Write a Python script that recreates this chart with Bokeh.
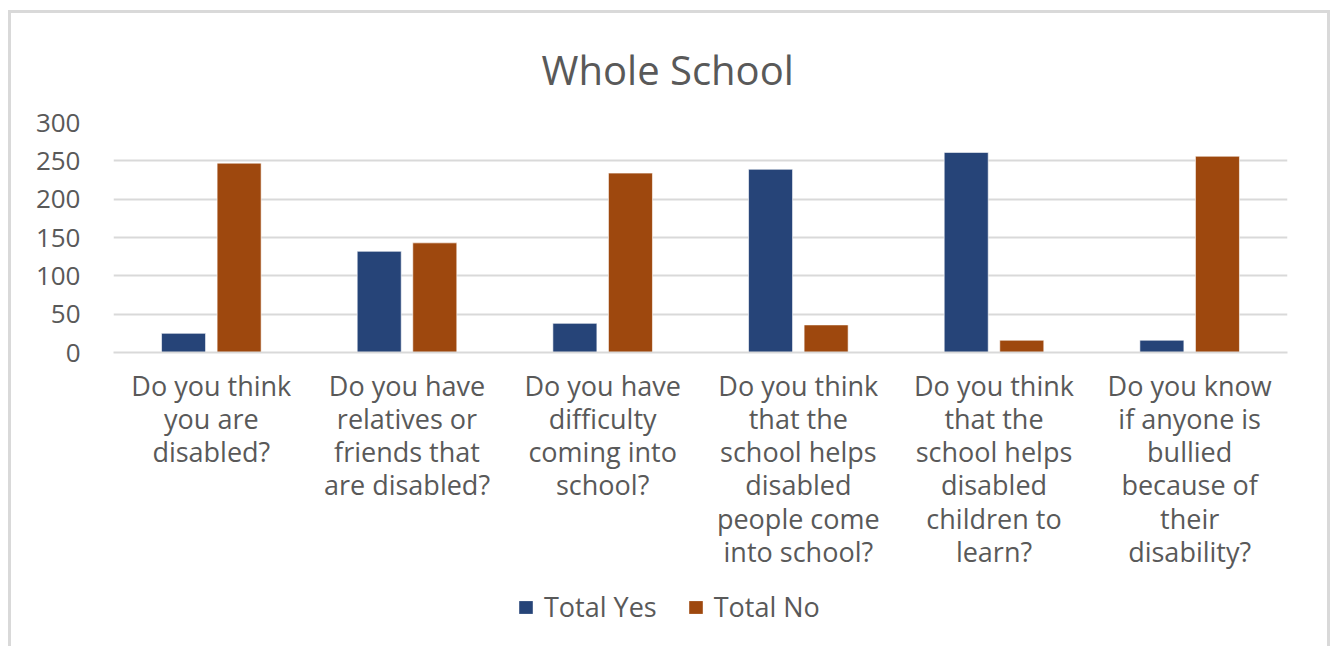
from bokeh.plotting import figure
from bokeh.layouts import column
from bokeh.models import FactorRange, Range1d, Legend, LegendItem, ColumnDataSource, Title
from bokeh.transform import dodge
from bokeh.embed import file_html
from bokeh.resources import INLINE

categories = [
    "Do you think\nyou are\ndisabled?",
    "Do you have\nrelatives or\nfriends that\nare disabled?",
    "Do you have\ndifficulty\ncoming into\nschool?",
    "Do you think\nthat the\nschool helps\ndisabled\npeople come\ninto school?",
    "Do you think\nthat the\nschool helps\ndisabled\nchildren to\nlearn?",
    "Do you know\nif anyone is\nbullied\nbecause of\ntheir\ndisability?",
]
total_yes = [25, 132, 38, 239, 261, 16]
total_no = [247, 143, 234, 36, 16, 256]
series_names = ["Total Yes", "Total No"]
series_colors = ["#264478", "#9E480E"]
y_ticks = [0, 50, 100, 150, 200, 250, 300]
chart_title = "Whole School"

FONT = "Open Sans"
TXT = "#595959"
GRID = "#d9d9d9"

# ---- main chart ----
x_range = FactorRange(*categories, range_padding=0)
p = figure(
    x_range=x_range,
    y_range=Range1d(0, 300),
    width=1316, height=560,
    output_backend="svg", toolbar_location=None,
    min_border_left=102, min_border_right=40,
    min_border_top=108, min_border_bottom=221,
)
p.outline_line_color = None
p.background_fill_color = "white"
p.border_fill_color = "white"

p.title.text = chart_title
p.title.align = "left"
p.title.offset = 428
p.title.text_font = FONT
p.title.text_font_size = "40px"
p.title.text_font_style = "normal"
p.title.text_color = TXT
if "standoff" in Title.properties():
    p.title.standoff = 52

src = ColumnDataSource(dict(cat=categories, yes=total_yes, no=total_no))
bar_style = dict(width=0.225, line_color="white", line_alpha=0.6, line_width=1)
p.vbar(x=dodge("cat", -0.142, range=x_range), top="yes", source=src,
       fill_color=series_colors[0], **bar_style)
p.vbar(x=dodge("cat", 0.142, range=x_range), top="no", source=src,
       fill_color=series_colors[1], **bar_style)

p.xgrid.grid_line_color = None
p.ygrid.grid_line_color = GRID
p.ygrid.grid_line_width = 2
p.ygrid.ticker = y_ticks

p.yaxis.ticker = y_ticks
p.yaxis.axis_line_color = None
p.yaxis.major_tick_line_color = None
p.yaxis.minor_tick_line_color = None
p.yaxis.major_label_standoff = 27
p.yaxis.major_label_text_font = FONT
p.yaxis.major_label_text_font_size = "26px"
p.yaxis.major_label_text_color = TXT

p.xaxis.axis_line_color = GRID
p.xaxis.axis_line_width = 2
p.xaxis.major_tick_line_color = None
p.xaxis.minor_tick_line_color = None
p.xaxis.major_label_standoff = 8
p.xaxis.major_label_text_font = FONT
p.xaxis.major_label_text_font_size = "27px"
p.xaxis.major_label_text_color = TXT
p.xaxis.major_label_text_line_height = 0.9

# ---- legend strip (keys use the same series; their bars fall far outside this strip's view) ----
lg = figure(width=1316, height=73, output_backend="svg", toolbar_location=None,
            x_axis_location=None, y_axis_location=None,
            min_border=0, x_range=x_range, y_range=Range1d(10000, 10001))
lg.outline_line_color = None
lg.grid.grid_line_color = None
lg.border_fill_color = "white"
lg.background_fill_color = "white"
k1 = lg.vbar(x=dodge("cat", -0.142, range=x_range), top="yes", source=src, width=0.225,
             fill_color=series_colors[0], line_color=None)
k2 = lg.vbar(x=dodge("cat", 0.142, range=x_range), top="no", source=src, width=0.225,
             fill_color=series_colors[1], line_color=None)
legend = Legend(
    items=[LegendItem(label=series_names[0], renderers=[k1]),
           LegendItem(label=series_names[1], renderers=[k2])],
    orientation="horizontal", location=(404, 21),
    glyph_width=17, glyph_height=16, label_standoff=10, spacing=30,
    padding=0, margin=0, border_line_color=None, background_fill_alpha=0,
    label_text_font=FONT, label_text_font_size="27px", label_text_color=TXT,
)
lg.add_layout(legend)

layout = column(p, lg, spacing=0)
layout.margin = (10, 0, 0, 8)
layout.styles = {
    "border-top": "3px solid #d9d9d9",
    "border-left": "3px solid #d9d9d9",
    "border-right": "3px solid #d9d9d9",
}

open("out.html", "w").write(file_html(layout, INLINE))
